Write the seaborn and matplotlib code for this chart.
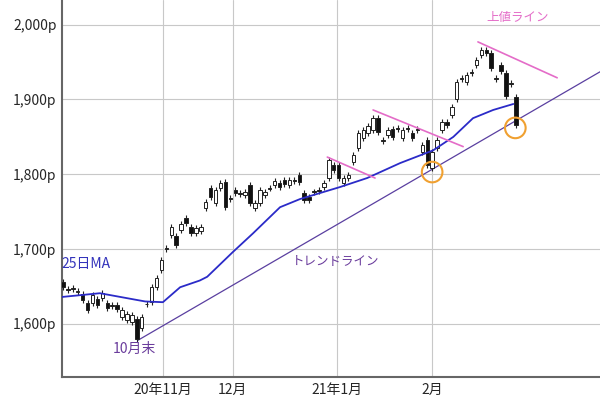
import numpy as np
import pandas as pd
import matplotlib
matplotlib.use("Agg")
import matplotlib.pyplot as plt
import seaborn as sns

opens = [1656,1646,1648,1642,1640,1628,1628,1633,1634,1628,1625,1625,1609,1605,1602,1606,1594,1627,1629,1649,1672,1701,
         1719,1717,1725,1741,1729,1722,1724,
         1755,1782,1762,1782,1790,1768,1779,1775,1772,1786,1755,1762,1772,1782,1786,1789,1792,1786,1792,1799,
         1775,1770,1777,1779,1783,1795,1812,1812,1788,1795,1817,1835,1849,1855,1859,1875,1846,1853,1861,1862,
         1849,1862,1855,1860,1830,1846,1808,1835,1859,1870,1879,1900,1929,1924,1937,1946,1960,1966,1962,1929,
         1946,1935,1922,1903]
closes = [1649,1645,1647,1644,1632,1618,1639,1625,1641,1621,1624,1620,1618,1613,1612,1580,1609,1626,1649,1661,1685,1700,
          1730,1705,1733,1735,1722,1728,1729,
          1763,1770,1779,1788,1756,1767,1775,1774,1776,1762,1762,1779,1776,1781,1791,1783,1787,1792,1791,1790,
          1766,1766,1776,1778,1788,1819,1806,1795,1795,1799,1826,1855,1859,1865,1875,1857,1845,1859,1850,1861,
          1859,1861,1849,1859,1839,1812,1830,1846,1870,1866,1890,1924,1928,1933,1936,1953,1966,1962,1942,1928,
          1938,1904,1921,1866]

ma_idx = [-0.2, 7.5, 15.0, 16.7, 20.3, 23.8, 27.8, 29.3, 34.5, 38.6, 44.1, 48.2, 56.3, 61.8, 68.5, 75.2, 79.3, 83.3, 87.4, 91.5]
ma_val = [1636, 1641, 1632, 1630, 1629, 1649, 1658, 1663, 1696, 1721, 1756, 1767, 1783, 1795, 1815, 1832, 1850, 1875, 1886, 1894]

trend_idx = [15.2, 109.1]
trend_val = [1578, 1937]
resist = [([53.7, 63.4], [1823, 1795]), ([63.0, 81.3], [1886, 1837]), ([84.3, 100.4], [1977, 1929])]
circle_idx = [75.0, 91.9]
circle_val = [1803, 1862]

month_pos = [20.3, 34.5, 55.7, 75.0]
month_labels = ["20年11月", "12月", "21年1月", "2月"]
yticks = [1600, 1700, 1800, 1900, 2000]

sns.set_style("white")
plt.rcParams['font.family'] = ['Noto Sans CJK JP', 'DejaVu Sans']

fig = plt.figure(figsize=(6, 4.08), dpi=100)
ax = fig.add_axes([62/600, 31/408, 538/600, 377/408])

for y in yticks:
    ax.axhline(y, color="#c8c8c8", lw=0.8, zorder=0)
for x in month_pos:
    ax.axvline(x, color="#c8c8c8", lw=0.8, zorder=0)

n = len(opens)
idx = np.arange(n)
o = np.array(opens); c = np.array(closes)
hi = np.maximum(o, c) + 4
lo = np.minimum(o, c) - 4
ax.vlines(idx, lo, hi, color="#222222", lw=0.8, zorder=3)
bottom = np.minimum(o, c)
height = np.maximum(np.abs(c - o), 1.2)
colors = ["#111111" if cc < oo else "white" for oo, cc in zip(o, c)]
ax.bar(idx, height, bottom=bottom, width=0.7, color=colors, edgecolor="#222222", linewidth=0.7, zorder=4)

ma_df = pd.DataFrame({"i": ma_idx, "v": ma_val})
sns.lineplot(data=ma_df, x="i", y="v", ax=ax, color="#2b2bc8", lw=1.3, zorder=5, sort=False)
ax.plot(trend_idx, trend_val, color="#5a3fa0", lw=0.9, zorder=2)
for xs, ys in resist:
    ax.plot(xs, ys, color="#e46cc8", lw=1.2, zorder=5)
ax.scatter(circle_idx, circle_val, s=220, facecolors="none", edgecolors="#f0a030", linewidths=1.5, zorder=6)

ax.text(-0.3, 1680, "25日MA", color="#3333bb", fontsize=10, ha="left", va="center")
ax.text(10.2, 1566, "10月末", color="#6a3c9c", fontsize=10, ha="left", va="center")
ax.text(46.5, 1683, "トレンドライン", color="#6a3c9c", fontsize=9, ha="left", va="center")
ax.text(86, 2010, "上値ライン", color="#e46cc8", fontsize=9, ha="left", va="center")

ax.set_xlim(-0.2, 109.1)
ax.set_ylim(1529, 2033)
ax.set_yticks(yticks)
ax.set_yticklabels([f"{v:,}p" for v in yticks], fontsize=10)
ax.set_xticks(month_pos)
ax.set_xticklabels(month_labels, fontsize=10)
ax.tick_params(length=0, pad=4)
ax.set_xlabel(""); ax.set_ylabel("")
for s in ["top", "right"]:
    ax.spines[s].set_visible(False)
for s in ["left", "bottom"]:
    ax.spines[s].set_color("#666666"); ax.spines[s].set_linewidth(1.5)

fig.savefig("out.png", dpi=100)
